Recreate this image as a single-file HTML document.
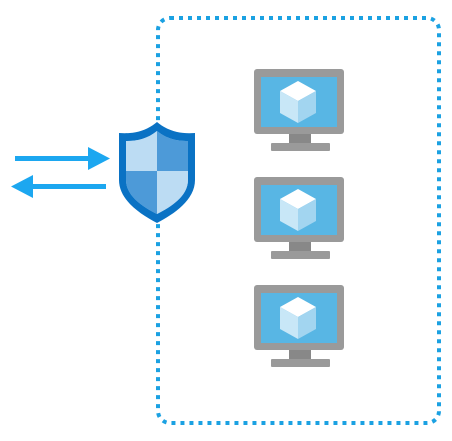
<!DOCTYPE html>
<html><head><style>body{margin:0;background:#fff}svg{display:block}</style></head><body>
<svg width="452" height="441" viewBox="0 0 452 441" xmlns="http://www.w3.org/2000/svg">
<rect x="158" y="18" width="281" height="405" rx="12" fill="none" stroke="#1ba1e2" stroke-width="4" stroke-dasharray="4 5"/>
<g fill="#1ca7f0">
<rect x="15" y="156" width="76" height="5"/><polygon points="88,147 110,158.5 88,170"/>
<rect x="30" y="184" width="76" height="5"/><polygon points="33,175 11,186.5 33,198"/>
</g>
<path d="M157,122 C145,132 132,134 119,133 L119,180 C119,200 140,214 157,223 C174,214 195,200 195,180 L195,133 C182,134 169,132 157,122Z" fill="#0a72c4"/>
<path d="M157,131 C147,139 137,141 126,141 L126,180 C126,196 143,207 157,214 C171,207 188,196 188,180 L188,141 C177,141 167,139 157,131Z" fill="#9ccbec"/>
<path d="M157,131 C167,139 177,141 188,141 L188,171 L157,171Z" fill="#4d9ad8"/>
<path d="M126,171 L157,171 L157,214 C143,207 126,196 126,180Z" fill="#4d9ad8"/>
<path d="M157,131 C147,139 137,141 126,141 L126,171 L157,171Z" fill="#bcdcf3"/>
<path d="M157,171 L188,171 L188,180 C188,196 171,207 157,214Z" fill="#bcdcf3"/>
<g id="m">
<rect x="254" y="69" width="90" height="65" rx="3" fill="#9a9a9a"/>
<rect x="261" y="77" width="76" height="50" fill="#58b6e4"/>
<rect x="289" y="134" width="22" height="9" fill="#888"/>
<rect x="271" y="143" width="59" height="8" rx="1" fill="#9a9a9a"/>
<polygon points="298,81 316,91 298,101 280,91" fill="#fff"/>
<polygon points="280,91 298,101 298,123 280,113" fill="#c8e7f7"/>
<polygon points="316,91 298,101 298,123 316,113" fill="#a2d5f0"/>
</g>
<use href="#m" y="108"/>
<use href="#m" y="216"/>
</svg>
</body></html>
